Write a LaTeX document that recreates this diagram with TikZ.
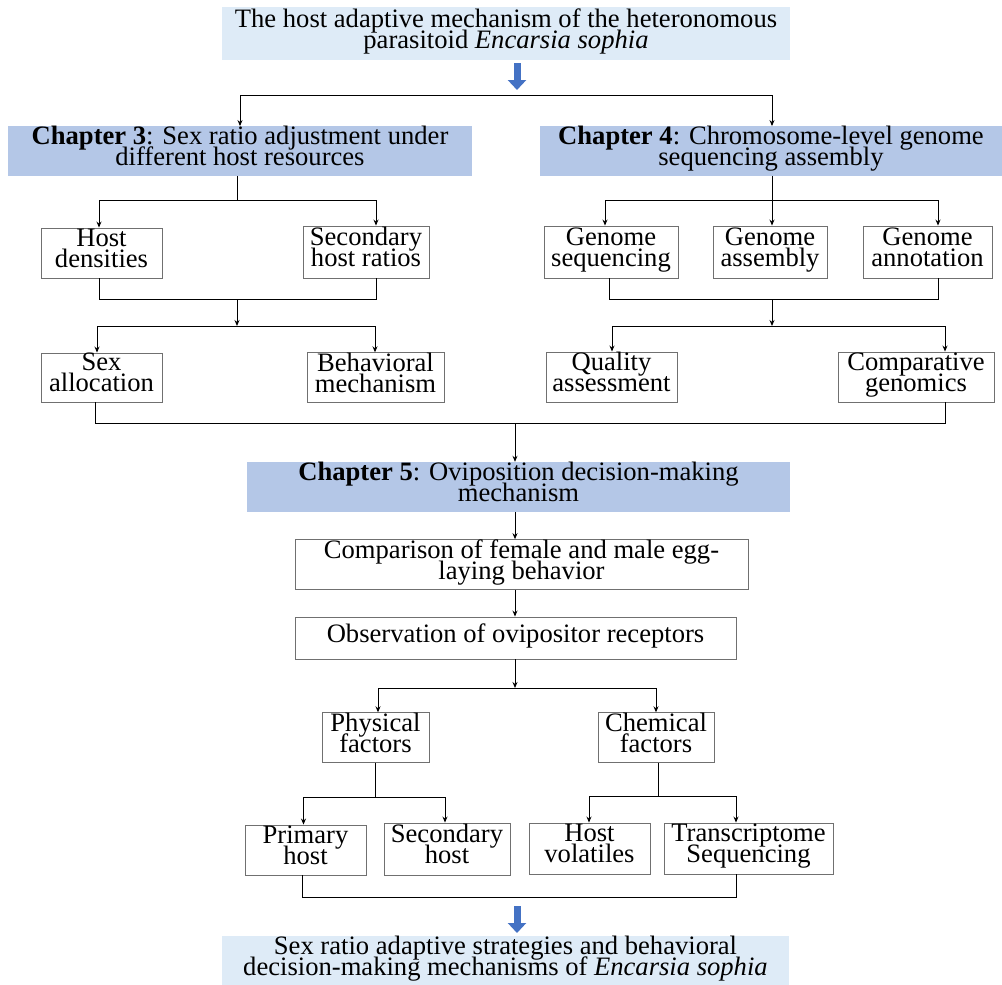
\documentclass[tikz,border=0pt]{standalone}
\usepackage{fontspec}
\setmainfont{Liberation Serif}
\usetikzlibrary{arrows.meta}
\definecolor{lightbl}{HTML}{DEEBF7}
\definecolor{chapbl}{HTML}{B4C7E7}
\definecolor{arrbl}{HTML}{4472C4}
\definecolor{boxgray}{HTML}{707070}
\newcommand{\TopStrut}{\rule{0pt}{19pt}}
\newcommand{\BotStrut}{\rule[-10pt]{0pt}{10pt}}
\newcommand{\boxfont}{\fontsize{26.6}{21}\selectfont}
\setlength{\lineskiplimit}{-100pt}
\begin{document}
\setlength{\lineskiplimit}{-100pt}
\begin{tikzpicture}[x=1pt,y=-1pt,
 txt/.style={align=center, inner sep=0pt, font=\boxfont, execute at begin node=\TopStrut, execute at end node=\BotStrut},
 wbox/.style={txt, draw=boxgray, line width=0.9pt, fill=white},
 cbox/.style={txt, fill=chapbl},
 tbox/.style={txt, fill=lightbl},
 ln/.style={line width=0.9pt, black},
 arr/.style={ln, -{Stealth[length=6pt,width=5pt]}},
 barr/.style={line width=7pt, arrbl, -{Triangle[length=10pt,width=18pt]}},
]
\useasboundingbox (0,0) rectangle (1002,985);

% nodes
\node[tbox, minimum width=568pt, minimum height=53pt] (title) at (506,33.5) {The host adaptive mechanism of the heteronomous\\parasitoid \textit{Encarsia sophia}};
\node[cbox, minimum width=464pt, minimum height=46pt] (ch3) at (240,151) {\textbf{Chapter 3}: Sex ratio adjustment under\\different host resources};
\node[cbox, minimum width=462pt, minimum height=46pt] (ch4) at (771,151) {\textbf{Chapter 4}: Chromosome-level genome\\sequencing assembly};

\node[wbox, minimum width=121pt, minimum height=50pt] (hd) at (101.5,253) {Host\\densities};
\node[wbox, minimum width=126pt, minimum height=52pt] (shr) at (366,252) {Secondary\\host ratios};
\node[wbox, minimum width=134pt, minimum height=52pt] (gs) at (611,252) {Genome\\sequencing};
\node[wbox, minimum width=114pt, minimum height=52pt] (ga) at (770,252) {Genome\\assembly};
\node[wbox, minimum width=129pt, minimum height=52pt] (gan) at (927.5,252) {Genome\\annotation};

\node[wbox, minimum width=121pt, minimum height=49pt] (sa) at (101.5,377.5) {Sex\\allocation};
\node[wbox, minimum width=137pt, minimum height=49pt] (bm) at (375.5,377.5) {Behavioral\\mechanism};
\node[wbox, minimum width=131pt, minimum height=50pt] (qa) at (611.5,377) {Quality\\assessment};
\node[wbox, minimum width=156pt, minimum height=50pt] (cg) at (916,377) {Comparative\\genomics};

\node[cbox, minimum width=543pt, minimum height=50pt] (ch5) at (518.5,487) {\textbf{Chapter 5}: Oviposition decision-making\\mechanism};
\node[wbox, minimum width=453pt, minimum height=49pt] (cmp) at (521.5,564.5) {Comparison of female and male egg-\\laying behavior};
\node[wbox, minimum width=441pt, minimum height=42pt] (obs) at (515.5,638) {Observation of ovipositor receptors};

\node[wbox, minimum width=107pt, minimum height=49pt] (phy) at (375.5,737.5) {Physical\\factors};
\node[wbox, minimum width=116pt, minimum height=49pt] (chem) at (656,737.5) {Chemical\\factors};

\node[wbox, minimum width=121pt, minimum height=50pt] (ph) at (305.5,850) {Primary\\host};
\node[wbox, minimum width=126pt, minimum height=52pt] (sh) at (447,849) {Secondary\\host};
\node[wbox, minimum width=121pt, minimum height=51pt] (hv) at (589.5,848.5) {Host\\volatiles};
\node[wbox, minimum width=169pt, minimum height=51pt] (ts) at (748.5,848.5) {Transcriptome\\Sequencing};

\node[tbox, minimum width=567pt, minimum height=48pt] (final) at (505.5,961) {Sex ratio adaptive strategies and behavioral\\decision-making mechanisms of \textit{Encarsia sophia}};

% blue arrows
\coordinate (ba1) at (517,63); \coordinate (ba2) at (517,90);
\draw[barr] (ba1) -- (ba2);
\coordinate (ba3) at (517,906); \coordinate (ba4) at (517,933);
\draw[barr] (ba3) -- (ba4);

% top split
\coordinate (sL) at (240,95); \coordinate (sR) at (772,95);
\draw[ln] (sL) -- (sR);
\draw[arr] (sL) -- (sL |- ch3.north);
\draw[arr] (sR) -- (sR |- ch4.north);

% left branch
\coordinate (l1) at (237,200); \coordinate (l1a) at (99,200); \coordinate (l1b) at (376,200);
\draw[ln] (ch3.south -| l1) -- (l1);
\draw[ln] (l1a) -- (l1b);
\draw[arr] (l1a) -- (l1a |- hd.north);
\draw[arr] (l1b) -- (l1b |- shr.north);
\coordinate (l2) at (237,299); \coordinate (l2a) at (99,299); \coordinate (l2b) at (376,299);
\draw[ln] (hd.south -| l2a) -- (l2a) -- (l2b) -- (shr.south -| l2b);
\coordinate (l3) at (237,326); \coordinate (l3a) at (97,326); \coordinate (l3b) at (375,326);
\draw[arr] (l2) -- (l3);
\draw[ln] (l3a) -- (l3b);
\draw[arr] (l3a) -- (l3a |- sa.north);
\draw[arr] (l3b) -- (l3b |- bm.north);

% right branch
\coordinate (r1) at (772,200); \coordinate (r1a) at (605,200); \coordinate (r1c) at (938,200);
\draw[ln] (ch4.south -| r1) -- (r1);
\draw[ln] (r1a) -- (r1c);
\draw[arr] (r1a) -- (r1a |- gs.north);
\draw[arr] (r1) -- (r1 |- ga.north);
\draw[arr] (r1c) -- (r1c |- gan.north);
\coordinate (r2) at (772,299); \coordinate (r2a) at (609,299); \coordinate (r2c) at (938,299);
\draw[ln] (gs.south -| r2a) -- (r2a) -- (r2c) -- (gan.south -| r2c);
\coordinate (r3) at (772,326); \coordinate (r3a) at (612,326); \coordinate (r3b) at (945,326);
\draw[arr] (r2) -- (r3);
\draw[ln] (r3a) -- (r3b);
\draw[arr] (r3a) -- (r3a |- qa.north);
\draw[arr] (r3b) -- (r3b |- cg.north);

% join into chapter 5
\coordinate (m1) at (515,423.5); \coordinate (m1a) at (95,423.5); \coordinate (m1b) at (945,423.5);
\draw[ln] (sa.south -| m1a) -- (m1a) -- (m1b) -- (cg.south -| m1b);
\draw[arr] (m1) -- (m1 |- ch5.north);
\draw[arr] (ch5.south -| m1) -- (cmp.north -| m1);
\draw[arr] (cmp.south -| m1) -- (obs.north -| m1);

% factors
\coordinate (f1) at (515,688); \coordinate (f1a) at (378,688); \coordinate (f1b) at (656,688);
\draw[arr] (obs.south -| f1) -- (f1);
\draw[ln] (f1a) -- (f1b);
\draw[arr] (f1a) -- (f1a |- phy.north);
\draw[arr] (f1b) -- (f1b |- chem.north);

\coordinate (p1) at (375.5,797); \coordinate (p1a) at (303.5,797); \coordinate (p1b) at (445,797);
\draw[ln] (phy.south -| p1) -- (p1);
\draw[ln] (p1a) -- (p1b);
\draw[arr] (p1a) -- (p1a |- ph.north);
\draw[arr] (p1b) -- (p1b |- sh.north);

\coordinate (q1) at (658.5,796); \coordinate (q1a) at (589,796); \coordinate (q1b) at (736,796);
\draw[ln] (chem.south -| q1) -- (q1);
\draw[ln] (q1a) -- (q1b);
\draw[arr] (q1a) -- (q1a |- hv.north);
\draw[arr] (q1b) -- (q1b |- ts.north);

\coordinate (z1a) at (302,897); \coordinate (z1b) at (736,897);
\draw[ln] (ph.south -| z1a) -- (z1a) -- (z1b) -- (ts.south -| z1b);
\end{tikzpicture}
\end{document}
